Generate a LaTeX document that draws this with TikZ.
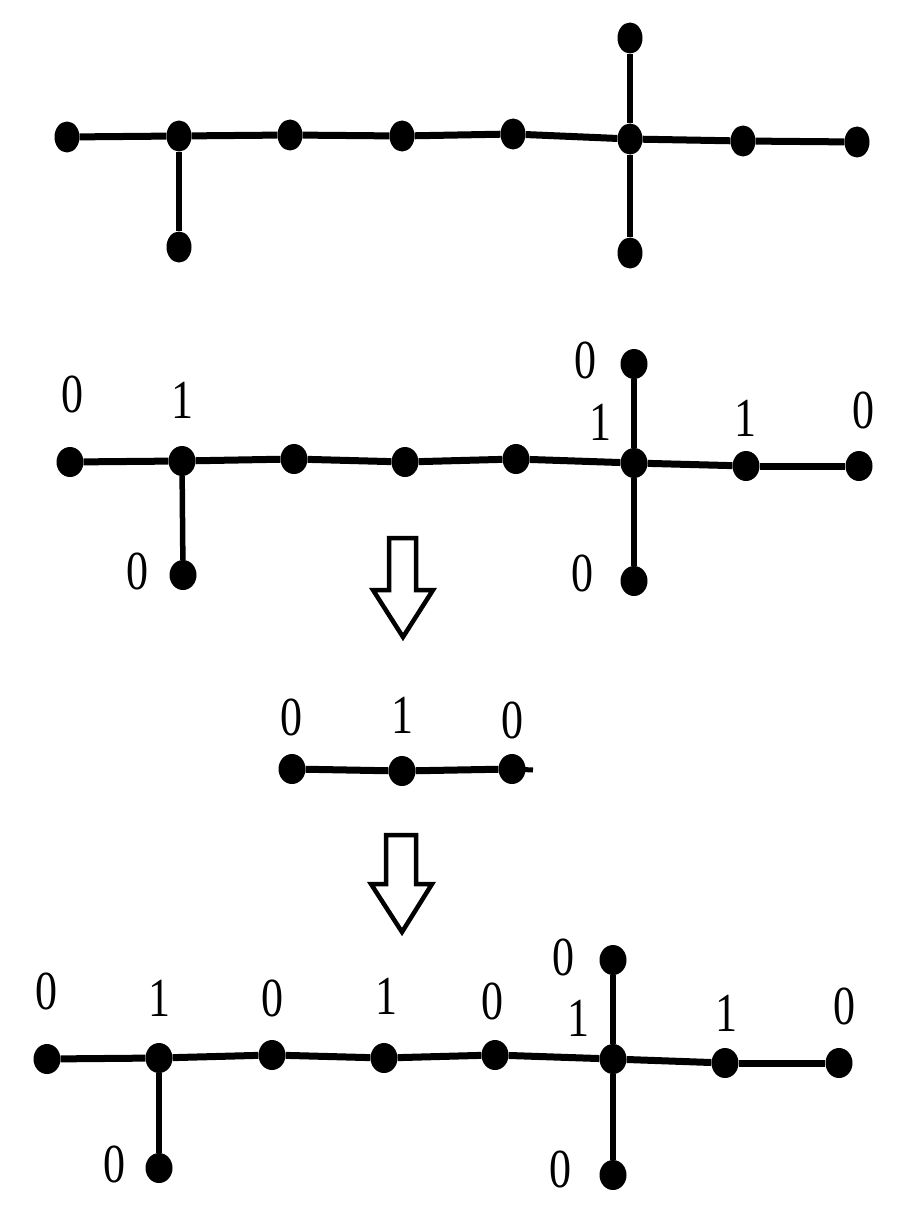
\documentclass[tikz,border=0pt]{standalone}
\usepackage{fontspec}
\setmainfont[FakeStretch=0.8]{Liberation Serif}
\usetikzlibrary{shapes.geometric}
\tikzset{
  dotA/.style={ellipse,fill=black,inner sep=0pt,minimum width=25pt,minimum height=31pt},
  dotB/.style={ellipse,fill=black,inner sep=0pt,minimum width=27pt,minimum height=30pt},
  edgeH/.style={line width=7pt},
  edgeV/.style={line width=5.5pt},
  lab/.style={font=\fontsize{55}{55}\selectfont,inner sep=0pt},
  blockarrow/.style={draw=black,line width=4.5pt,fill=white,line join=miter}
}
\begin{document}
\begin{tikzpicture}[x=1pt,y=-1pt]
\useasboundingbox (0,0) rectangle (912,1220);
% ---------- graph 1
\node[dotA] (a1) at (67,137) {};
\node[dotA] (a2) at (179,136) {};
\node[dotA] (a3) at (290,135) {};
\node[dotA] (a4) at (402,136) {};
\node[dotA] (a5) at (513,134) {};
\node[dotA] (a6) at (630,139) {};
\node[dotA] (a7) at (743,141) {};
\node[dotA] (a8) at (857,142) {};
\node[dotA] (a9) at (630,38) {};
\node[dotA] (a10) at (179,247) {};
\node[dotA] (a11) at (630,253) {};
\draw[edgeH] (a1)--(a2); \draw[edgeH] (a2)--(a3); \draw[edgeH] (a3)--(a4);
\draw[edgeH] (a4)--(a5); \draw[edgeH] (a5)--(a6); \draw[edgeH] (a6)--(a7);
\draw[edgeH] (a7)--(a8);
\draw[edgeV] (a9)--(a6); \draw[edgeV] (a6)--(a11); \draw[edgeV] (a2)--(a10);
% ---------- graph 2
\node[dotB] (b1) at (70,462) {};
\node[dotB] (b2) at (182,461) {};
\node[dotB] (b3) at (294,459) {};
\node[dotB] (b4) at (405,462) {};
\node[dotB] (b5) at (516,459) {};
\node[dotB] (b6) at (634,463) {};
\node[dotB] (b7) at (746,466) {};
\node[dotB] (b8) at (859,466) {};
\node[dotB] (b9) at (634,364) {};
\node[dotB] (b10) at (183,575) {};
\node[dotB] (b11) at (634,581) {};
\draw[edgeH] (b1)--(b2); \draw[edgeH] (b2)--(b3); \draw[edgeH] (b3)--(b4);
\draw[edgeH] (b4)--(b5); \draw[edgeH] (b5)--(b6); \draw[edgeH] (b6)--(b7);
\draw[edgeH] (b7)--(b8);
\draw[edgeV] (b9)--(b6); \draw[edgeV] (b6)--(b11); \draw[edgeV] (b2)--(b10);
\node[lab] (lb1) at (72,394) {0};
\node[lab] (lb2) at (182,400) {1};
\node[lab] (lb9) at (585,360) {0};
\node[lab] (lb6) at (600,422) {1};
\node[lab] (lb7) at (745,418) {1};
\node[lab] (lb8) at (863,410) {0};
\node[lab] (lb10) at (137,571) {0};
\node[lab] (lb11) at (582,573) {0};
% ---------- arrow 1
\draw[blockarrow] (389,538) -- (416,538) -- (416,590) -- (433,590) -- (403,637) -- (373,590) -- (389,590) -- cycle;
% ---------- graph 3
\node[dotB] (c1) at (292,769) {};
\node[dotB] (c2) at (402,771) {};
\node[dotB] (c3) at (512,769) {};
\coordinate (c3e) at (533,770);
\draw[edgeH] (c1)--(c2); \draw[edgeH] (c2)--(c3);
\draw[line width=5pt] (c3.center)--(c3e);
\node[lab] (lc1) at (291,717) {0};
\node[lab] (lc2) at (402,715) {1};
\node[lab] (lc3) at (512,720) {0};
% ---------- arrow 2
\draw[blockarrow] (386,835) -- (416,835) -- (416,884) -- (432,884) -- (402,932) -- (371,884) -- (386,884) -- cycle;
% ---------- graph 4
\node[dotB] (d1) at (47,1059) {};
\node[dotB] (d2) at (159,1058) {};
\node[dotB] (d3) at (272,1055) {};
\node[dotB] (d4) at (384,1058) {};
\node[dotB] (d5) at (495,1055) {};
\node[dotB] (d6) at (613,1059) {};
\node[dotB] (d7) at (725,1063) {};
\node[dotB] (d8) at (839,1063) {};
\node[dotB] (d9) at (613,960) {};
\node[dotB] (d10) at (159,1168) {};
\node[dotB] (d11) at (613,1175) {};
\draw[edgeH] (d1)--(d2); \draw[edgeH] (d2)--(d3); \draw[edgeH] (d3)--(d4);
\draw[edgeH] (d4)--(d5); \draw[edgeH] (d5)--(d6); \draw[edgeH] (d6)--(d7);
\draw[edgeH] (d7)--(d8);
\draw[edgeV] (d9)--(d6); \draw[edgeV] (d6)--(d11); \draw[edgeV] (d2)--(d10);
\node[lab] (ld1) at (46,991) {0};
\node[lab] (ld2) at (159,998) {1};
\node[lab] (ld3) at (272,998) {0};
\node[lab] (ld4) at (386,996) {1};
\node[lab] (ld5) at (492,1001) {0};
\node[lab] (ld9) at (563,957) {0};
\node[lab] (ld6) at (578,1018) {1};
\node[lab] (ld7) at (726,1013) {1};
\node[lab] (ld8) at (844,1006) {0};
\node[lab] (ld10) at (114,1164) {0};
\node[lab] (ld11) at (560,1169) {0};
\end{tikzpicture}
\end{document}
